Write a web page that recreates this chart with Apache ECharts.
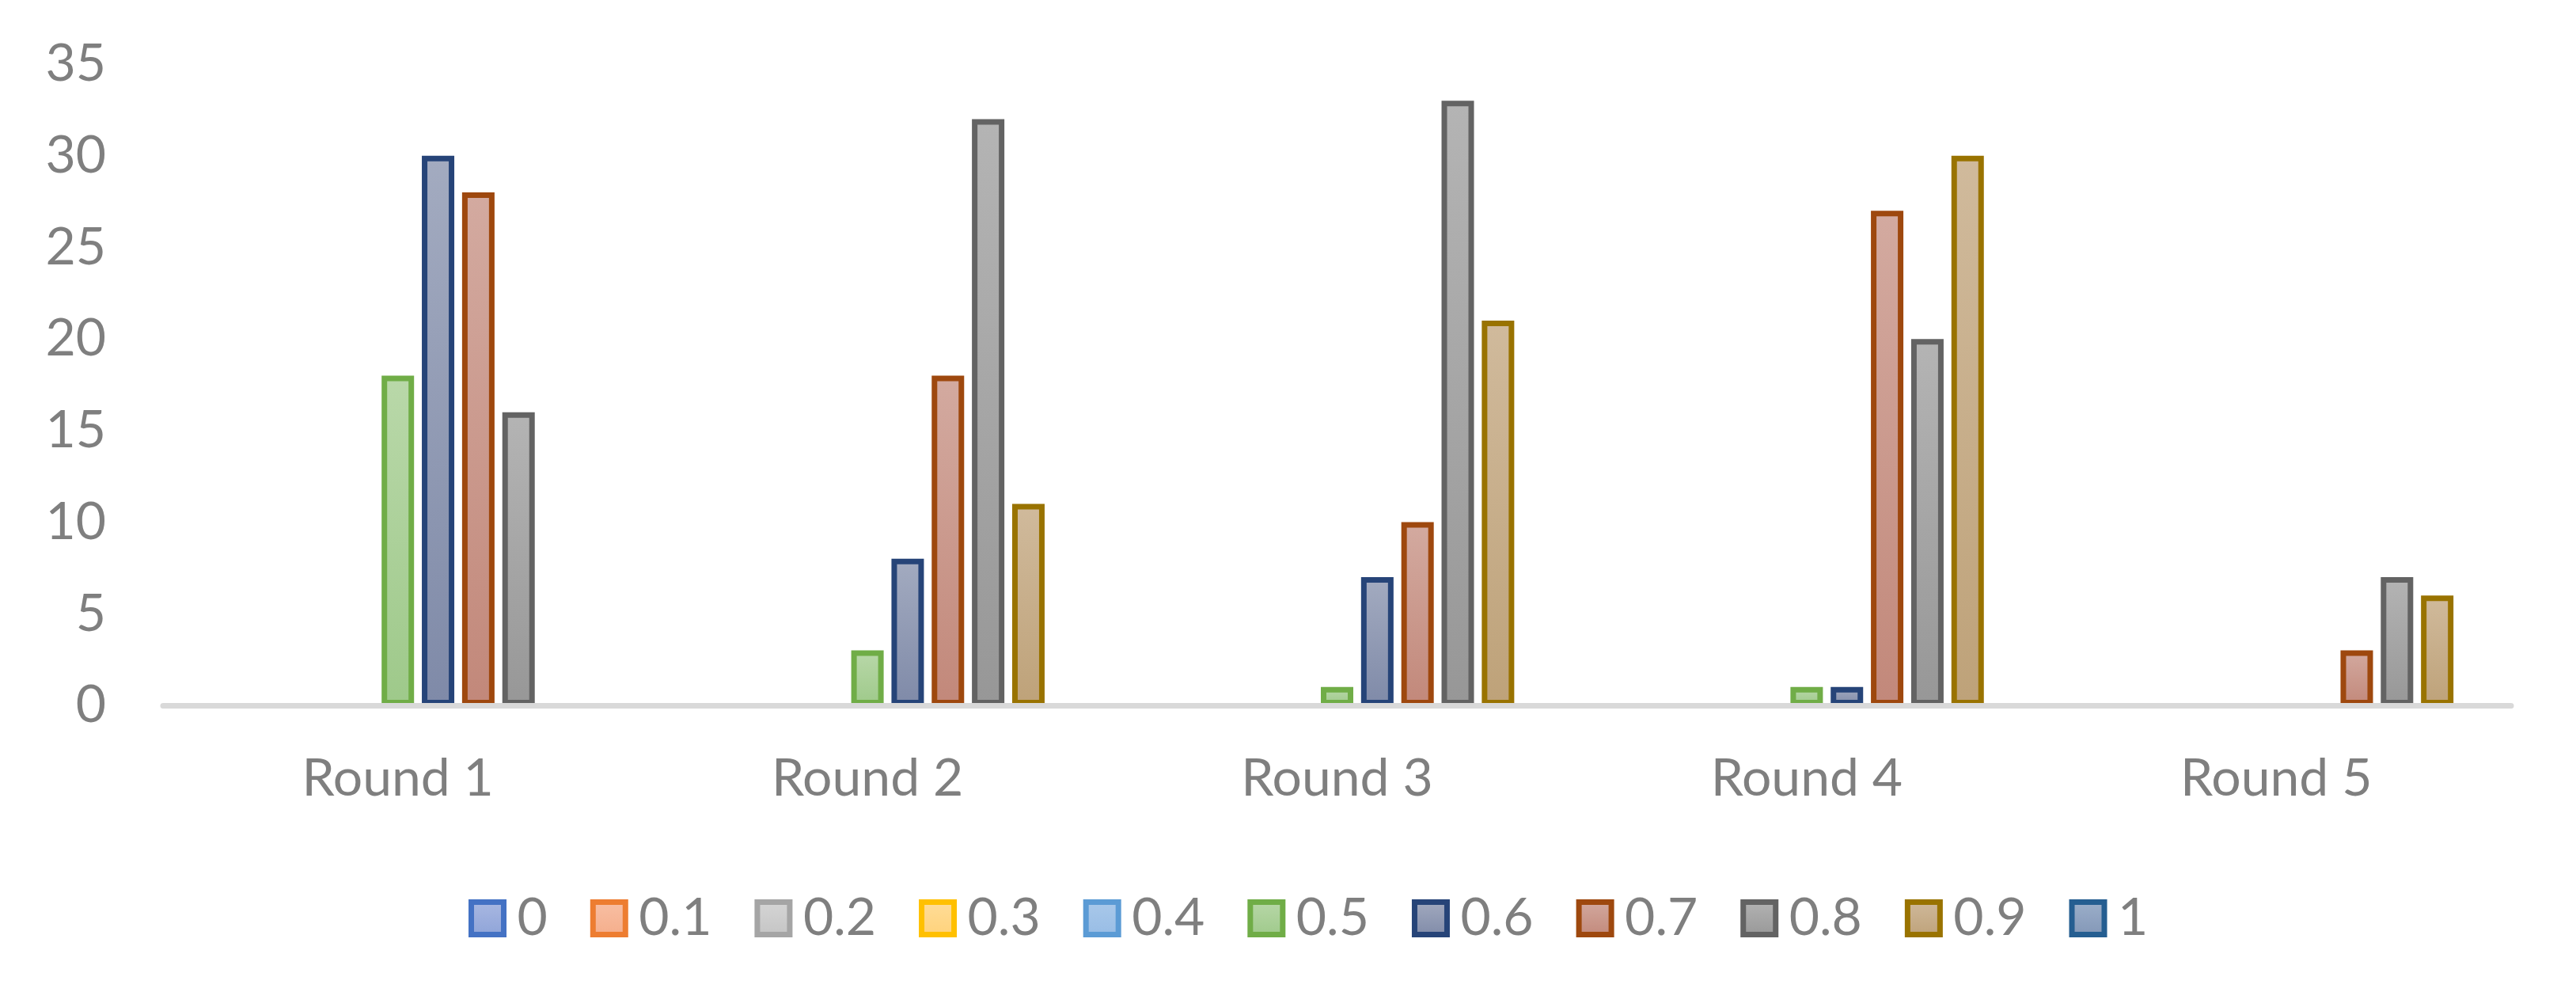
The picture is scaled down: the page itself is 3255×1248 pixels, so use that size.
<!DOCTYPE html>
<html>
<head>
<meta charset="utf-8">
<script src="https://cdn.jsdelivr.net/npm/echarts@6/dist/echarts.min.js"></script>
<style>
  html, body { margin: 0; padding: 0; background: #ffffff; }
  #main { width: 3255px; height: 1248px; }
</style>
</head>
<body>
<div id="main"></div>
<script>
// categories and series values
const rounds = ['Round 1', 'Round 2', 'Round 3', 'Round 4', 'Round 5']
const seriesNames = ['0', '0.1', '0.2', '0.3', '0.4', '0.5', '0.6', '0.7', '0.8', '0.9', '1']
const v00 = [0, 0, 0, 0, 0]
const v01 = [0, 0, 0, 0, 0]
const v02 = [0, 0, 0, 0, 0]
const v03 = [0, 0, 0, 0, 0]
const v04 = [0, 0, 0, 0, 0]
const v05 = [18, 3, 1, 1, 0]
const v06 = [30, 8, 7, 1, 0]
const v07 = [28, 18, 10, 27, 3]
const v08 = [16, 32, 33, 20, 7]
const v09 = [0, 11, 21, 30, 6]
const v10 = [0, 0, 0, 0, 0]
const seriesValues = [v00, v01, v02, v03, v04, v05, v06, v07, v08, v09, v10]
const yMin = 0
const yMax = 35
const yStep = 5

// office palette: outline, gradient top, gradient bottom
const borderColors = ['#4472c4', '#ed7d31', '#a5a5a5', '#ffc000', '#5b9bd5', '#70ad47', '#264478', '#9e480e', '#636363', '#997300', '#255e91']
const topColors = ['#aab9e2', '#f8c0a5', '#d6d6d6', '#ffdd99', '#aac9ea', '#b9d8a9', '#a3abc0', '#d3aaa0', '#b4b4b4', '#d0ba9c', '#9db0cb']
const bottomColors = ['#8ea3d8', '#f5ad8a', '#c4c4c4', '#ffd27a', '#97bce5', '#9ec98a', '#7f8aa8', '#c2887a', '#979797', '#bea279', '#8296b6']

const textGrey = '#7f7f7f'
const font = 'Lato'

const chartDom = document.getElementById('main')
const myChart = echarts.init(chartDom)

// excel draws nothing for a zero bar, so leave those slots empty
const series = seriesNames.map((name, i) => ({
  name: name,
  type: 'bar',
  data: seriesValues[i].map(v => (v === 0 ? '-' : v)),
  barWidth: 41,
  barGap: '24%',
  itemStyle: {
    color: new echarts.graphic.LinearGradient(0, 0, 0, 1, [
      { offset: 0, color: topColors[i] },
      { offset: 1, color: bottomColors[i] }
    ]),
    borderColor: borderColors[i],
    borderWidth: 7
  },
  emphasis: { disabled: true }
}))

const option = {
  animation: false,
  backgroundColor: '#ffffff',
  grid: {
    left: 206,
    right: 82,
    top: 81,
    bottom: 357
  },
  legend: {
    data: seriesNames,
    icon: 'rect',
    left: 587,
    top: 1122,
    itemWidth: 41,
    itemHeight: 41,
    itemGap: 54,
    itemStyle: { borderWidth: 7 },
    textStyle: {
      color: textGrey,
      fontFamily: font,
      fontSize: 66,
      padding: [0, 0, 0, 12]
    }
  },
  xAxis: {
    type: 'category',
    data: rounds,
    z: 10,
    axisLine: { lineStyle: { color: '#d9d9d9', width: 7 } },
    axisTick: { show: false },
    axisLabel: {
      color: textGrey,
      fontFamily: font,
      fontSize: 66,
      margin: 60
    }
  },
  yAxis: {
    type: 'value',
    min: yMin,
    max: yMax,
    interval: yStep,
    axisLine: { show: false },
    axisTick: { show: false },
    splitLine: { show: false },
    axisLabel: {
      color: textGrey,
      fontFamily: font,
      fontSize: 66,
      margin: 72
    }
  },
  series: series
}

myChart.setOption(option)
</script>
</body>
</html>
